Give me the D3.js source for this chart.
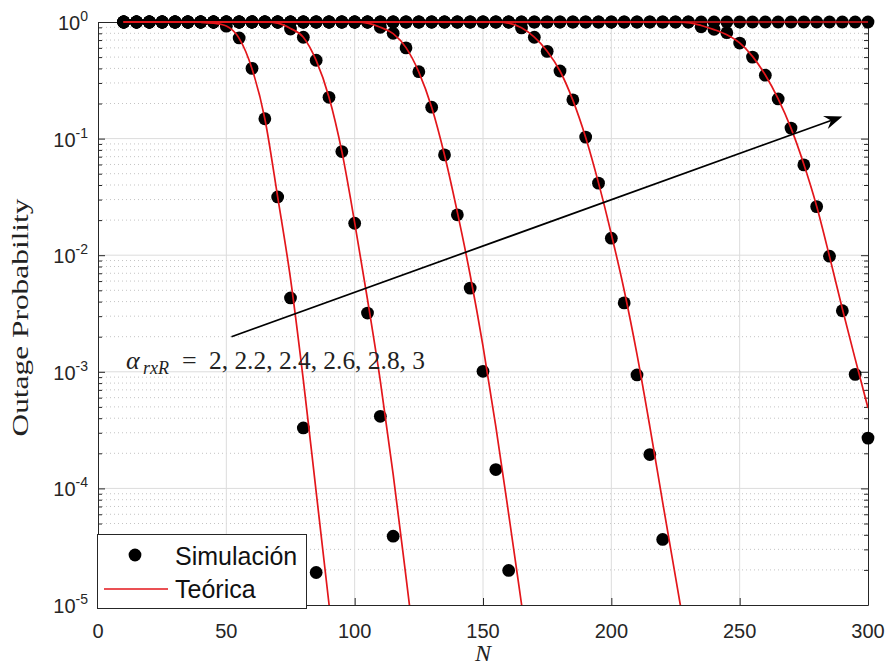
<!DOCTYPE html>
<html>
<head>
<meta charset="utf-8">
<script src="https://cdn.jsdelivr.net/npm/d3@7"></script>
<style>
  body { margin: 0; background: #fff; }
  .tick-label { font-family: "Liberation Sans", Arial, sans-serif; fill: #262626; }
</style>
</head>
<body>
<div id="chart"></div>
<script>
// x values of the simulation points
const nValues = [10, 15, 20, 25, 30, 35, 40, 45, 50, 55, 60, 65, 70, 75, 80, 85, 90, 95, 100,
  105, 110, 115, 120, 125, 130, 135, 140, 145, 150, 155, 160, 165, 170, 175, 180, 185, 190, 195, 200,
  205, 210, 215, 220, 225, 230, 235, 240, 245, 250, 255, 260, 265, 270, 275, 280, 285, 290, 295, 300];

// simulated outage probability, from N = 10 upward (points past the end of a list are 0, off the log axis)
const simA20 = [1, 1, 1, 1, 1, 1, 1, 1, 0.92, 0.73, 0.40, 0.148, 0.0316, 0.0043, 0.00033, 0.000019];
const simA22 = [1, 1, 1, 1, 1, 1, 1, 1, 1, 1, 1, 1, 1, 0.87, 0.74, 0.47, 0.226, 0.0774, 0.0188, 0.00319,
  0.000415, 0.0000389];
const simA24 = [1, 1, 1, 1, 1, 1, 1, 1, 1, 1, 1, 1, 1, 1, 1, 1, 1, 1, 1, 1, 0.90, 0.80, 0.60, 0.375, 0.186,
  0.0725, 0.0222, 0.00522, 0.00101, 0.000145, 0.0000198];
const simA26 = [1, 1, 1, 1, 1, 1, 1, 1, 1, 1, 1, 1, 1, 1, 1, 1, 1, 1, 1, 1, 1, 1, 1, 1, 1, 1, 1, 1, 1, 1, 1,
  0.89, 0.74, 0.56, 0.38, 0.215, 0.103, 0.0415, 0.014, 0.0039, 0.00094, 0.000195, 0.0000365];
const simA28 = [1, 1, 1, 1, 1, 1, 1, 1, 1, 1, 1, 1, 1, 1, 1, 1, 1, 1, 1, 1, 1, 1, 1, 1, 1, 1, 1, 1, 1, 1, 1,
  1, 1, 1, 1, 1, 1, 1, 1, 1, 1, 1, 1, 1, 1, 0.91, 0.865, 0.81, 0.66, 0.50, 0.35, 0.219, 0.123, 0.0595,
  0.0261, 0.0098, 0.00334, 0.00095, 0.00027];
const simA30 = [1, 1, 1, 1, 1, 1, 1, 1, 1, 1, 1, 1, 1, 1, 1, 1, 1, 1, 1, 1, 1, 1, 1, 1, 1, 1, 1, 1, 1, 1, 1,
  1, 1, 1, 1, 1, 1, 1, 1, 1, 1, 1, 1, 1, 1, 1, 1, 1, 1, 1, 1, 1, 1, 1, 1, 1, 1, 1, 1];

// theoretical curves as [N, P]
const theoA20 = [[10, 1], [35, 1], [40, 0.995], [45, 0.977], [50, 0.923], [55, 0.724], [60, 0.398],
  [65, 0.148], [70, 0.0316], [75, 0.0063], [80, 0.00085], [85, 0.0000933], [90, 0.0000102], [95, 0.0000011]];
const theoA22 = [[10, 1], [65, 1], [70, 0.977], [75, 0.881], [80, 0.741], [85, 0.468], [90, 0.2265],
  [95, 0.0776], [100, 0.01905], [105, 0.00417], [110, 0.000832], [115, 0.000132], [120, 0.0000174], [125, 0.0000022]];
const theoA24 = [[10, 1], [100, 1], [105, 0.977], [110, 0.902], [115, 0.794], [120, 0.603], [125, 0.372],
  [130, 0.186], [135, 0.0724], [140, 0.0234], [145, 0.00676], [150, 0.00166], [155, 0.000339],
  [160, 0.0000603], [165, 0.0000102], [170, 0.0000017]];
const theoA26 = [[10, 1], [155, 1], [160, 0.977], [165, 0.891], [170, 0.741], [175, 0.562], [180, 0.380],
  [185, 0.2138], [190, 0.1023], [195, 0.0417], [200, 0.01514], [205, 0.00501], [210, 0.00141],
  [215, 0.000339], [220, 0.0000759], [225, 0.0000174], [230, 0.000004]];
const theoA28 = [[10, 1], [225, 1], [230, 0.9886], [235, 0.933], [240, 0.861], [245, 0.776], [250, 0.661],
  [255, 0.507], [260, 0.3508], [265, 0.2188], [270, 0.123], [275, 0.0603], [280, 0.0263], [285, 0.00977],
  [290, 0.00347], [295, 0.00129], [300, 0.00049]];
const theoA30 = [[10, 1], [300, 1]];

const simSeries = [simA20, simA22, simA24, simA26, simA28, simA30];
const theoSeries = [theoA20, theoA22, theoA24, theoA26, theoA28, theoA30];

const xTicks = [0, 50, 100, 150, 200, 250, 300];
const yExps = [0, -1, -2, -3, -4, -5];
const legendLabels = ["Simulación", "Teórica"];
const arrowEnds = [[52, 0.002], [290, 0.155]];   // [N, P] of tail and tip
const alphaText = "2, 2.2, 2.4, 2.6, 2.8, 3";

const width = 889, height = 667;
const margin = { left: 98, top: 22, right: 21, bottom: 62 };
const W = width - margin.left - margin.right;
const H = height - margin.top - margin.bottom;

const svg = d3.select("#chart").append("svg")
  .attr("width", width)
  .attr("height", height);

const x = d3.scaleLinear().domain([0, 300]).range([margin.left, margin.left + W]);
const y = d3.scaleLog().domain([1e-5, 1]).range([margin.top + H, margin.top]);

// minor values for the log axis (2..9 x 10^e)
const minorVals = [];
for (let e = -5; e < 0; e++) {
  for (let k = 2; k <= 9; k++) minorVals.push(k * Math.pow(10, e));
}
const majorVals = yExps.map(e => Math.pow(10, e));

// grid
const grid = svg.append("g");
grid.selectAll(".gminor").data(minorVals).enter().append("line")
  .attr("x1", x(0)).attr("x2", x(300))
  .attr("y1", d => y(d)).attr("y2", d => y(d))
  .attr("stroke", "#c4c4c4").attr("stroke-width", 1)
  .attr("stroke-dasharray", "1,3");
grid.selectAll(".gmajy").data(majorVals.slice(1, -1)).enter().append("line")
  .attr("x1", x(0)).attr("x2", x(300))
  .attr("y1", d => y(d)).attr("y2", d => y(d))
  .attr("stroke", "#dcdcdc").attr("stroke-width", 1);
grid.selectAll(".gmajx").data(xTicks.slice(1, -1)).enter().append("line")
  .attr("x1", d => x(d)).attr("x2", d => x(d))
  .attr("y1", y(1)).attr("y2", y(1e-5))
  .attr("stroke", "#dcdcdc").attr("stroke-width", 1);

// axes with inward ticks
const axisColor = "#262626";
function styleAxis(g) {
  g.selectAll("path").attr("stroke", axisColor);
  g.selectAll("line").attr("stroke", axisColor);
  g.selectAll("text").remove();
}
svg.append("g").attr("transform", `translate(0,${y(1e-5)})`)
  .call(d3.axisBottom(x).tickValues(xTicks).tickSize(-7).tickSizeOuter(0)).call(styleAxis);
svg.append("g").attr("transform", `translate(0,${y(1)})`)
  .call(d3.axisTop(x).tickValues(xTicks).tickSize(-7).tickSizeOuter(0)).call(styleAxis);
svg.append("g").attr("transform", `translate(${x(0)},0)`)
  .call(d3.axisLeft(y).tickValues(majorVals).tickSize(-7).tickSizeOuter(0)).call(styleAxis);
svg.append("g").attr("transform", `translate(${x(300)},0)`)
  .call(d3.axisRight(y).tickValues(majorVals).tickSize(-7).tickSizeOuter(0)).call(styleAxis);
svg.append("g").attr("transform", `translate(${x(0)},0)`)
  .call(d3.axisLeft(y).tickValues(minorVals).tickSize(-4).tickSizeOuter(0)).call(styleAxis)
  .select(".domain").remove();
svg.append("g").attr("transform", `translate(${x(300)},0)`)
  .call(d3.axisRight(y).tickValues(minorVals).tickSize(-4).tickSizeOuter(0)).call(styleAxis)
  .select(".domain").remove();

// tick labels
svg.selectAll(".xl").data(xTicks).enter().append("text")
  .attr("class", "tick-label")
  .attr("x", d => x(d)).attr("y", y(1e-5) + 33)
  .attr("text-anchor", "middle").attr("font-size", 20)
  .text(d => d);
const yl = svg.selectAll(".yl").data(yExps).enter().append("text")
  .attr("class", "tick-label")
  .attr("x", x(0) - 10).attr("y", d => y(Math.pow(10, d)) + 8)
  .attr("text-anchor", "end").attr("font-size", 20);
yl.append("tspan").text("10");
yl.append("tspan").attr("dy", -9).attr("font-size", 14).text(d => d);

// axis titles
const serif = "'Liberation Serif', 'Times New Roman', serif";
svg.append("text")
  .attr("transform", `translate(28,${(y(1) + y(1e-5)) / 2 + 4}) rotate(-90)`)
  .attr("text-anchor", "middle")
  .attr("font-family", serif)
  .attr("font-size", 24).attr("fill", "#222")
  .attr("textLength", 238).attr("lengthAdjust", "spacingAndGlyphs")
  .text("Outage Probability");
svg.append("text")
  .attr("x", (x(0) + x(300)) / 2).attr("y", 661)
  .attr("text-anchor", "middle")
  .attr("font-family", serif)
  .attr("font-style", "italic")
  .attr("font-size", 24).attr("fill", "#222")
  .text("N");

// simulation dots
const dotR = 6.4;
simSeries.forEach(s => {
  svg.append("g").selectAll("circle")
    .data(s.map((p, i) => [nValues[i], p]).filter(d => d[1] > 0))
    .enter().append("circle")
    .attr("cx", d => x(d[0])).attr("cy", d => y(d[1]))
    .attr("r", dotR).attr("fill", "#000");
});

// theoretical lines, clipped to the axes
svg.append("clipPath").attr("id", "plotClip").append("rect")
  .attr("x", x(0)).attr("y", y(1) - 3)
  .attr("width", x(300) - x(0)).attr("height", y(1e-5) - y(1) + 3);
const line = d3.line()
  .x(d => x(d[0])).y(d => y(d[1]))
  .curve(d3.curveMonotoneX);
const lineColor = "#e3161b";
const lines = svg.append("g").attr("clip-path", "url(#plotClip)");
theoSeries.forEach(t => {
  lines.append("path").datum(t)
    .attr("d", line)
    .attr("fill", "none")
    .attr("stroke", lineColor).attr("stroke-width", 1.7);
});

// arrow annotation
const ax0 = x(arrowEnds[0][0]), ay0 = y(arrowEnds[0][1]);
const ax1 = x(arrowEnds[1][0]), ay1 = y(arrowEnds[1][1]);
const ang = Math.atan2(ay1 - ay0, ax1 - ax0);
const headL = 18, headW = 7, notch = 12;
const ux = Math.cos(ang), uy = Math.sin(ang);
const px = -uy, py = ux;
svg.append("line")
  .attr("x1", ax0).attr("y1", ay0)
  .attr("x2", ax1 - ux * notch).attr("y2", ay1 - uy * notch)
  .attr("stroke", "#000").attr("stroke-width", 1.7);
const headPts = [
  [ax1, ay1],
  [ax1 - ux * headL + px * headW, ay1 - uy * headL + py * headW],
  [ax1 - ux * notch, ay1 - uy * notch],
  [ax1 - ux * headL - px * headW, ay1 - uy * headL - py * headW]
];
svg.append("path")
  .attr("d", "M" + headPts.map(p => p.join(",")).join("L") + "Z")
  .attr("fill", "#000");

// alpha label, laid out like the LaTeX original
const atY = 369;
const at = svg.append("g")
  .attr("font-family", serif).attr("fill", "#222");
at.append("text").attr("x", 126).attr("y", atY)
  .attr("font-size", 26).attr("font-style", "italic").text("α");
at.append("text").attr("x", 143).attr("y", atY + 5)
  .attr("font-size", 18).attr("font-style", "italic").text("rxR");
at.append("text").attr("x", 182).attr("y", atY)
  .attr("font-size", 26).text("=");
at.append("text").attr("x", 209).attr("y", atY)
  .attr("font-size", 25)
  .attr("textLength", 216).attr("lengthAdjust", "spacingAndGlyphs")
  .text(alphaText);

// legend
const lg = svg.append("g");
lg.append("rect")
  .attr("x", 97.5).attr("y", 534.5).attr("width", 209).attr("height", 74)
  .attr("fill", "#fff").attr("stroke", axisColor).attr("stroke-width", 1);
lg.append("circle").attr("cx", 135).attr("cy", 555).attr("r", dotR).attr("fill", "#000");
lg.append("line").attr("x1", 104).attr("x2", 168).attr("y1", 589).attr("y2", 589)
  .attr("stroke", lineColor).attr("stroke-width", 1.7);
lg.selectAll(".lt").data(legendLabels).enter().append("text")
  .attr("x", 175).attr("y", (d, i) => 565 + i * 33)
  .attr("font-family", "'Liberation Sans', Arial, sans-serif")
  .attr("font-size", 25).attr("fill", "#111")
  .text(d => d);
</script>
</body>
</html>
